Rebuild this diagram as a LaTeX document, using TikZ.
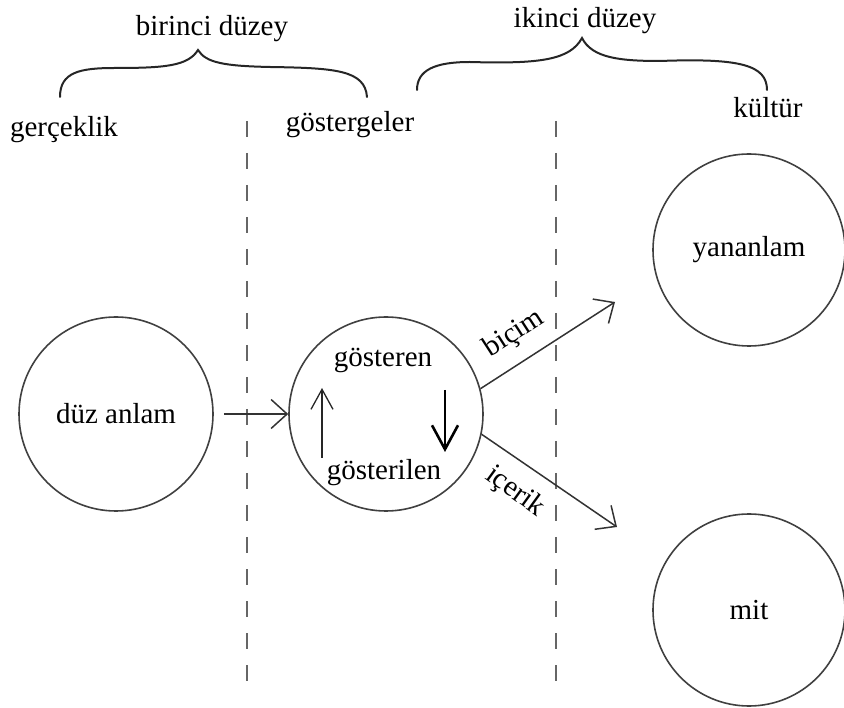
\documentclass[tikz,border=0pt]{standalone}
\usepackage{fontspec}
\setmainfont{Liberation Serif}
\usetikzlibrary{arrows.meta}
\begin{document}
\begin{tikzpicture}[x=1pt,y=-1pt,
  lbl/.style={font=\fontsize{29}{31}\selectfont, inner sep=0pt, anchor=base},
  ring/.style={circle, draw=black!75, line width=1.6pt, minimum size=194pt, inner sep=0pt, font=\fontsize{29}{31}\selectfont},
  brace/.style={line width=2pt, draw=black!85, line cap=round},
  divider/.style={draw=black!60, line width=2.6pt, dash pattern=on 16pt off 16pt},
  conn/.style={draw=black!80, line width=1.5pt, -{Straight Barb[length=16pt,width=29pt]}},
]
\useasboundingbox (0,0) rectangle (844,708);

% dividers
\coordinate (d1top) at (247,121); \coordinate (d1bot) at (247,690);
\coordinate (d2top) at (556,121); \coordinate (d2bot) at (556,690);
\draw[divider] (d1top) -- (d1bot);
\draw[divider] (d2top) -- (d2bot);

% braces
\draw[brace] (60,97) .. controls (60,72) and (80,68) .. (115,68) .. controls (165,68) and (188,66) .. (198,50) .. controls (206,63) and (225,66) .. (270,67) .. controls (335,68) and (365,70) .. (367,97);
\draw[brace] (417,90) .. controls (417,70) and (435,62) .. (470,62) .. controls (540,64) and (570,60) .. (582,38) .. controls (592,58) and (620,61) .. (660,61) .. controls (740,58) and (767,65) .. (767,90);

% labels
\node[lbl] (birinci) at (212,36) {birinci düzey};
\node[lbl] (ikinci) at (585,28) {ikinci düzey};
\node[lbl] (gercek) at (64,137) {gerçeklik};
\node[lbl] (gosterg) at (350,132) {göstergeler};
\node[lbl] (kultur) at (768,118) {kültür};

% circles
\node[ring] (duz) at (116,414) {düz anlam};
\node[ring] (gos) at (386,414) {};
\node[ring, minimum size=192pt] (yan) at (749,250) {yananlam};
\node[ring, minimum size=192pt] (mit) at (749,610) {mit};

\node[lbl] (gosteren) at (383,367) {gösteren};
\node[lbl] (gosterilen) at (384,480) {gösterilen};

% inner arrows
\coordinate (upA) at (322,458); \coordinate (upB) at (322,388);
\draw[draw=black!85, line width=1.3pt, -{Straight Barb[length=20pt,width=22pt]}] (upA) -- (upB);
\coordinate (dnA) at (445,390); \coordinate (dnB) at (445,452);
\draw[draw=black, line width=2.6pt, -{Straight Barb[length=24pt,width=26pt]}] (dnA) -- (dnB);

% connectors
\draw[conn, shorten <=10pt] (duz) -- (gos);
\coordinate (bEnd) at (615,302);
\coordinate (iEnd) at (617,527);
\draw[conn] (gos.15) -- (bEnd);
\draw[conn] (gos.-12) -- (iEnd);

\node[lbl, rotate=33, anchor=center] (bicim) at (514,334) {biçim};
\node[lbl, rotate=-36, anchor=center] (icerik) at (515,492) {içerik};
\end{tikzpicture}
\end{document}
